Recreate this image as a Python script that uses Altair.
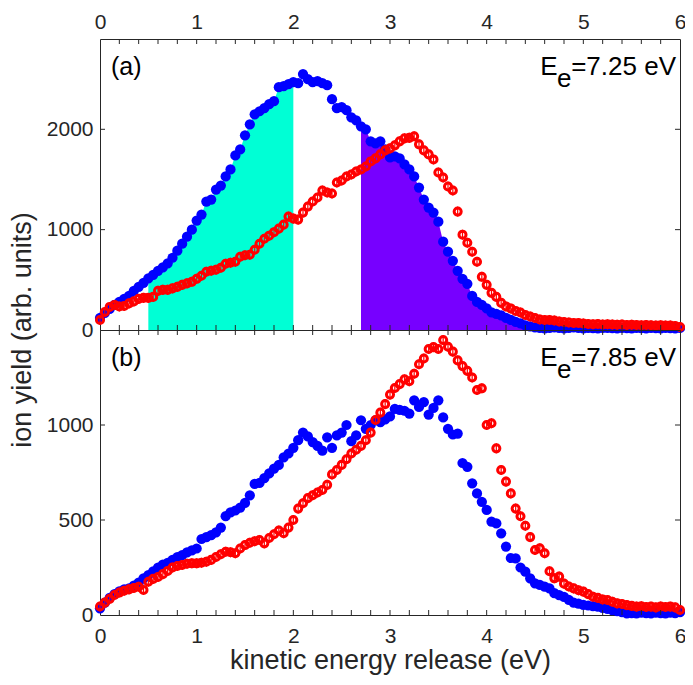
import altair as alt
import pandas as pd

# ---------------- data ----------------
energy = [round(i * 0.05, 2) for i in range(121)]  # kinetic energy release grid (eV)

top_blue = [
    120, 170, 210, 250, 280, 310, 340, 390, 430, 470,
    515, 550, 590, 625, 665, 720, 790, 860, 930, 1000,
    1090, 1150, 1280, 1300, 1400, 1440, 1530, 1600, 1740, 1800,
    1940, 2050, 2150, 2180, 2210, 2250, 2280, 2420, 2430, 2450,
    2470, 2460, 2550, 2500, 2470, 2480, 2460, 2440, 2300, 2210,
    2220, 2190, 2120, 2090, 2030, 2000, 1880, 1860, 1880, 1800,
    1720, 1730, 1710, 1650, 1600, 1530, 1420, 1300, 1220, 1170,
    1080, 880, 780, 690, 590, 510, 460, 340, 280, 250,
    215, 175, 160, 145, 120, 100, 80, 65, 45, 35,
    25, 20, 15, 20, 25, 20, 15, 20, 25, 20,
    15, 20, 18, 15, 20, 22, 18, 15, 20, 18,
    15, 20, 18, 15, 20, 18, 15, 20, 18, 15, 20,
]
top_red = [
    100, 180, 230, 250, 235, 240, 265, 285, 310, 320,
    320, 330, 390, 400, 400, 415, 430, 450, 465, 480,
    510, 540, 580, 590, 600, 620, 660, 670, 680, 730,
    745, 750, 800, 860, 910, 940, 975, 1010, 1050, 1130,
    1110, 1100, 1170, 1230, 1280, 1320, 1390, 1370, 1360, 1470,
    1490, 1530, 1550, 1580, 1600, 1630, 1680, 1710, 1750, 1790,
    1810, 1840, 1880, 1910, 1915, 1930, 1850, 1790, 1750, 1700,
    1570, 1520, 1430, 1390, 1180, 950, 870, 780, 680, 530,
    450, 370, 330, 270, 235, 215, 190, 175, 150, 135,
    120, 105, 100, 100, 95, 85, 80, 75, 70, 70,
    65, 60, 58, 60, 55, 57, 55, 52, 55, 50,
    52, 50, 48, 50, 47, 45, 48, 44, 45, 40, 30,
]
bot_blue = [
    35, 65, 90, 110, 125, 135, 140, 155, 170, 193,
    210, 230, 250, 265, 275, 290, 305, 315, 330, 340,
    350, 400, 410, 420, 435, 460, 520, 540, 550, 565,
    590, 630, 690, 695, 720, 745, 770, 790, 830, 850,
    880, 920, 960, 940, 910, 890, 865, 935, 880, 945,
    960, 1000, 915, 945, 1025, 980, 1000, 1025, 1015, 1030,
    1045, 1085, 1080, 1075, 1060, 1130, 1095, 1120, 1055, 1090,
    1130, 1040, 980, 950, 955, 800, 780, 693, 640, 596,
    553, 491, 482, 430, 360, 300, 298, 250, 228, 193,
    167, 158, 149, 140, 115, 105, 96, 80, 65, 60,
    53, 50, 47, 44, 38, 32, 26, 20, 15, 9,
    10, 8, 12, 10, 9, 12, 10, 8, 12, 10, 15,
]
bot_red = [
    45, 65, 85, 105, 118, 128, 135, 142, 149, 132,
    175, 190, 200, 215, 232, 250, 258, 263, 270, 272,
    272, 275, 280, 290, 305, 320, 333, 330, 325, 350,
    368, 380, 388, 395, 377, 405, 425, 445, 430, 460,
    500, 560, 588, 615, 630, 645, 658, 685, 740, 763,
    790, 820, 850, 870, 890, 920, 960, 1026, 1065, 1110,
    1160, 1195, 1215, 1240, 1230, 1270, 1320, 1350, 1400, 1410,
    1400, 1447, 1412, 1386, 1340, 1310, 1285, 1250, 1184, 1193,
    1000, 1009, 877, 763, 702, 640, 560, 520, 470, 410,
    342, 351, 325, 230, 193, 202, 165, 150, 140, 130,
    123, 110, 96, 90, 82, 79, 70, 61, 58, 52,
    48, 44, 46, 42, 44, 40, 45, 42, 44, 40, 26,
]

x_major = [0, 1, 2, 3, 4, 5, 6]
x_minor = [round(i * 0.2, 1) for i in range(1, 30)]
top_yticks = [0, 1000, 2000]
bot_yticks = [0, 500, 1000]
top_ymax = 2900
bot_ymax = 1500

# ---------------- style ----------------
W = 580
H_TOP = 291
H_BOT = 285
FONT = "Liberation Sans"
AX = "#262626"
BLUE = "#0000FF"
RED = "#FF0000"
CYAN = "#00FFD5"
PURPLE = "#7700FF"
TICK = 5


def panel(blue, red, ymax, yticks, label, ee, height, top):
    df = pd.DataFrame({"e": energy, "blue": blue, "red": red})
    xs = alt.Scale(domain=[0, 6], nice=False)
    ys = alt.Scale(domain=[0, ymax], nice=False)
    if top:
        xaxis = alt.Axis(orient="top", values=x_major, format="d", title=None,
                         labelPadding=7, labelFlush=False)
    else:
        xaxis = alt.Axis(orient="bottom", values=x_major, format="d", labelFlush=False,
                         title="kinetic energy release (eV)", labelPadding=10, titlePadding=1)
    yaxis = alt.Axis(values=yticks, title=None, labelPadding=7, format="d")

    def X(f):
        return alt.X(f, scale=xs, axis=xaxis)

    def Y(f):
        return alt.Y(f, scale=ys, axis=yaxis)

    base = alt.Chart(df)
    layers = []
    if top:
        layers.append(
            base.mark_area(color=CYAN, opacity=1)
            .transform_filter("datum.e >= 0.49 && datum.e <= 2.01")
            .encode(x=X("e:Q"), y=Y("blue:Q"))
        )
        layers.append(
            base.mark_area(color=PURPLE, opacity=1)
            .transform_filter("datum.e >= 2.69 && datum.e <= 4.51")
            .encode(x=X("e:Q"), y=Y("blue:Q"))
        )
    layers.append(
        base.mark_point(filled=True, size=105, color=BLUE, opacity=1)
        .encode(x=X("e:Q"), y=Y("blue:Q"))
    )
    layers.append(
        base.mark_point(filled=False, size=50, color=RED, strokeWidth=3, opacity=1)
        .encode(x=X("e:Q"), y=Y("red:Q"))
    )
    layers.append(
        base.mark_tick(orient="vertical", size=10, thickness=1.2, color=RED, opacity=1)
        .encode(x=X("e:Q"), y=Y("red:Q"))
    )
    # inward ticks
    xt = alt.Chart(pd.DataFrame({"t": x_minor}))
    layers.append(xt.mark_rule(color=AX, strokeWidth=1).encode(
        x=X("t:Q"), y=alt.value(height), y2=alt.value(height - TICK)))
    layers.append(xt.mark_rule(color=AX, strokeWidth=1).encode(
        x=X("t:Q"), y=alt.value(0), y2=alt.value(TICK)))
    yt = alt.Chart(pd.DataFrame({"t": [v for v in yticks if v > 0]}))
    layers.append(yt.mark_rule(color=AX, strokeWidth=1).encode(
        y=Y("t:Q"), x=alt.value(0), x2=alt.value(TICK)))
    layers.append(yt.mark_rule(color=AX, strokeWidth=1).encode(
        y=Y("t:Q"), x=alt.value(W), x2=alt.value(W - TICK)))

    # annotations
    layers.append(alt.Chart(pd.DataFrame({"s": [label]})).mark_text(
        align="left", baseline="alphabetic", font=FONT, fontSize=25, color="black"
    ).encode(text="s:N", x=alt.value(11), y=alt.value(36)))
    layers.append(alt.Chart(pd.DataFrame({"s": ["=" + ee + " eV"]})).mark_text(
        align="right", baseline="alphabetic", font=FONT, fontSize=26, color="black"
    ).encode(text="s:N", x=alt.value(576), y=alt.value(36)))
    layers.append(alt.Chart(pd.DataFrame({"s": ["e"]})).mark_text(
        align="right", baseline="alphabetic", font=FONT, fontSize=26, color="black"
    ).encode(text="s:N", x=alt.value(471.5), y=alt.value(48)))
    layers.append(alt.Chart(pd.DataFrame({"s": ["E"]})).mark_text(
        align="right", baseline="alphabetic", font=FONT, fontSize=26, color="black"
    ).encode(text="s:N", x=alt.value(457.5), y=alt.value(36)))
    if top:
        layers.append(alt.Chart(pd.DataFrame({"s": ["ion yield (arb. units)"]})).mark_text(
            align="center", baseline="middle", font=FONT, fontSize=27, color=AX, angle=270
        ).encode(text="s:N", x=alt.value(-77), y=alt.value(height)))

    return alt.layer(*layers).properties(width=W, height=height)


top_panel = panel(top_blue, top_red, top_ymax, top_yticks, "(a)", "7.25", H_TOP, True)
bot_panel = panel(bot_blue, bot_red, bot_ymax, bot_yticks, "(b)", "7.85", H_BOT, False)

chart = (
    alt.vconcat(top_panel, bot_panel, spacing=0, bounds="flush")
    .properties(
        autosize=alt.AutoSizeParams(type="none"),
        padding={"left": 92, "top": 31, "right": 5, "bottom": 638},
        background="white",
    )
    .configure_view(stroke=AX, strokeWidth=1)
    .configure_axis(
        domain=False, ticks=False, grid=False,
        labelFont=FONT, labelFontSize=21, labelColor=AX,
        titleFont=FONT, titleFontSize=27, titleColor=AX, titleFontWeight="normal",
    )
)

chart.save("out.html", embed_options={"renderer": "svg", "actions": False})
